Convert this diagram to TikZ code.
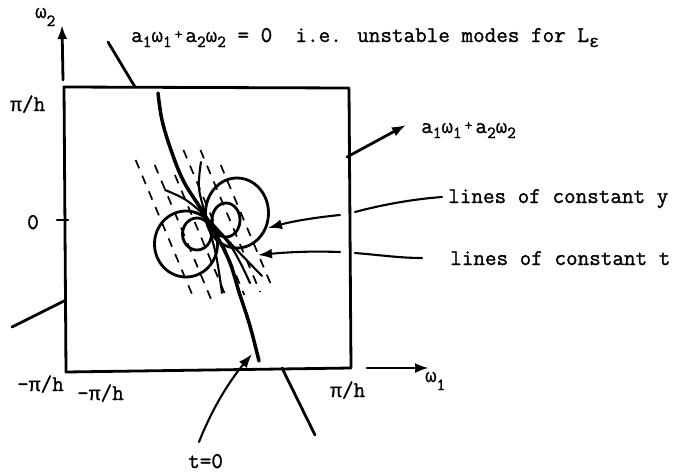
\documentclass[tikz,border=0pt]{standalone}
\usepackage{fontspec}
\setmainfont{Latin Modern Mono}[FakeBold=1.2]
\newfontfamily\grk{Liberation Mono}[FakeBold=0.6]
\usetikzlibrary{arrows.meta}
\newcommand{\sbs}[1]{\raisebox{-5pt}{\fontsize{17}{17}\selectfont #1}}
\newcommand{\lsbs}[1]{\raisebox{-8pt}{\fontsize{17}{17}\selectfont #1}}
\newcommand{\smplus}{\hspace{3pt}\raisebox{3pt}{\fontsize{15}{15}\selectfont +}\hspace{3pt}}
\newcommand{\wo}{{\grk\fontsize{19}{19}\selectfont ω}}
\newcommand{\pih}{{\grk\fontsize{19.7}{19}\selectfont π}/h}
\begin{document}
\begin{tikzpicture}[x=1pt,y=-1pt,
  lbl/.style={font=\fontsize{22.5}{24}\selectfont, inner sep=0pt, anchor=base west},
  heavy/.style={line width=2.8pt, line cap=round, line join=round},
  medium/.style={line width=2.1pt, line cap=round},
  dsh/.style={line width=1.7pt, dash pattern=on 9pt off 8pt},
  tip/.style={-{Latex[length=14pt,width=10pt]}}]
\useasboundingbox (0,0) rectangle (678,474);

% box
\coordinate (TL) at (64,87);
\coordinate (TR) at (349,88);
\coordinate (BR) at (351,368);
\coordinate (BL) at (66,372);
\draw[heavy] (TL) -- (TR) -- (BR) -- (BL) -- cycle;

% axes
\coordinate (w2s) at (63,80);
\coordinate (w2e) at (62,25);
\draw[heavy, tip] (w2s) -- (w2e);
\coordinate (w1s) at (367,368);
\coordinate (w1e) at (429,368);
\draw[heavy, tip] (w1s) -- (w1e);
\coordinate (t0a) at (57,220);
\coordinate (t0b) at (68,220);
\draw[heavy] (t0a) -- (t0b);

% a1w1+a2w2 axis
\coordinate (aas) at (347,157);
\coordinate (aae) at (406,125);
\draw[heavy, tip] (aas) -- (aae);
\coordinate (bls) at (12,327);
\coordinate (ble) at (66,300);
\draw[heavy] (bls) -- (ble);

% a.w = 0 line outside box
\coordinate (zl1) at (108,42);
\coordinate (zl2) at (135,87);
\draw[heavy] (zl1) -- (zl2);
\coordinate (zl3) at (282,368);
\coordinate (zl4) at (315,435);
\draw[heavy] (zl3) -- (zl4);

% dashed lines of constant t
\foreach \xo/\ya/\yb in {160/160/300, 177/165/300, 193/175/300, 212/150/295, 229/150/292, 243/165/290}{
  \draw[dsh] ({\xo+0.42*(\ya-218)},\ya) -- ({\xo+0.42*(\yb-218)},\yb);
}

% circles
\draw[heavy] (186,244) ellipse [x radius=31.5, y radius=33];
\draw[heavy] (197,234) ellipse [x radius=14.5, y radius=16];
\draw[heavy] (237,213) ellipse [x radius=31.5, y radius=35];
\draw[heavy] (226,220) ellipse [x radius=14, y radius=17];

% fan of lines through the centre
\coordinate (C) at (206,217);
\draw[line width=3.5pt, line cap=round] plot[smooth, tension=0.6] coordinates {(158,93) (162,120) (171,150) (184,182) (C) (228,258) (239,292) (250,326) (259,361)};
\draw[medium] plot[smooth, tension=0.6] coordinates {(201,162) (199,188) (C) (216,255) (222,293)};
\draw[medium] plot[smooth, tension=0.6] coordinates {(165,190) (186,200) (C) (235,248) (262,276)};
\draw[medium] plot[smooth, tension=0.6] coordinates {(C) (232,248) (250,283)};

% leader arrows
\coordinate (ya1) at (340,215);
\coordinate (ya2) at (268,228);
\draw[medium, tip] (ya1) .. controls (310,218) and (290,222) .. (ya2);
\coordinate (ta1) at (340,252);
\coordinate (ta2) at (258,255);
\draw[medium, tip] (ta1) .. controls (310,251) and (290,252) .. (ta2);

% labels
\node[lbl] (ly) at (448,203) {lines of constant y};
\node[lbl] (lt) at (450,265) {lines of constant t};
\coordinate (lye) at (442,197);
\coordinate (lys) at (355,212);
\draw[medium] (lys) .. controls (385,204) and (415,199) .. (lye);
\coordinate (lts) at (355,253);
\coordinate (lte) at (422,258);
\draw[medium] (lts) .. controls (380,255) and (400,258) .. (lte);

\node[lbl] (top) at (131,42) {a\sbs{1}\wo\sbs{1}\smplus a\sbs{2}\wo\sbs{2} = 0~~i.e. unstable modes for L\sbs{{\grk ε}}};
\node[lbl] (aw) at (421,133) {a\sbs{1}\wo\sbs{1}\smplus a\sbs{2}\wo\sbs{2}};
\node[lbl] (pt) at (10,111) {\pih};
\node[lbl] (z) at (27,229) {0};
\node[lbl] (m1) at (17,391) {-\pih};
\node[lbl] (m2) at (77,400) {-\pih};
\node[lbl] (pr) at (330,397) {\pih};
\node[lbl] (tz) at (188,468) {t=0};
\node[lbl] (o2) at (35,18) {\wo\lsbs{2}};
\node[lbl] (o1) at (425,382) {\wo\lsbs{1}};

% t=0 arrow
\coordinate (tzs) at (199,442);
\coordinate (tze) at (252,354);
\draw[medium, tip] (tzs) .. controls (214,404) and (232,378) .. (tze);
\end{tikzpicture}
\end{document}
